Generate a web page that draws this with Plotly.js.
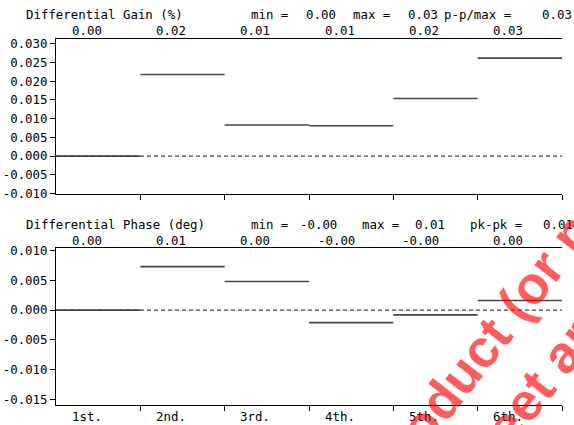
<!DOCTYPE html>
<html>
<head>
<meta charset="utf-8">
<script src="https://cdn.plot.ly/plotly-3.0.1.min.js"></script>
<style>html,body{margin:0;padding:0;background:#fff;}#chart{width:574px;height:425px;}</style>
</head>
<body>
<div id="chart"></div>
<script>
// ---- data ----
const segmentLabels = ['1st.', '2nd.', '3rd.', '4th.', '5th.', '6th.'];
const gainValues = [0.0000, 0.0218, 0.0083, 0.0081, 0.0154, 0.0262];
const phaseValues = [0.0000, 0.0073, 0.0048, -0.0021, -0.0008, 0.0016];
const gainTicks = [0.030, 0.025, 0.020, 0.015, 0.010, 0.005, 0.000, -0.005, -0.010];
const phaseTicks = [0.010, 0.005, 0.000, -0.005, -0.010, -0.015];
const gainTitle = 'Differential Gain (%)';
const phaseTitle = 'Differential Phase (deg)';
const gainStatNames = ['min =', 'max =', 'p-p/max ='];
const phaseStatNames = ['min =', 'max =', 'pk-pk ='];
const watermarkLines = ['product (or parts', 'sheet are'];

// ---- helpers ----
const W = 574, H = 425;
const px = v => v / W;
const py = v => 1 - v / H;
const fmt2 = v => v.toFixed(2);
const fmt3 = v => v.toFixed(3);
const FONT = {family: 'DejaVu Sans Mono, monospace', size: 12.4, color: '#000'};
const LABEL_SHIFT = 0.54; // right edge of per-segment labels, in segment units

function segTrace(vals, xa, ya) {
  const xs = [], ys = [];
  vals.forEach((v, i) => { xs.push(i, i + 1, null); ys.push(v, v, null); });
  return {x: xs, y: ys, xaxis: xa, yaxis: ya, mode: 'lines', type: 'scatter',
          line: {color: '#474747', width: 1.6}, hoverinfo: 'skip', showlegend: false, connectgaps: false};
}
function zeroTrace(n, xa, ya) {
  return {x: [0, n], y: [0, 0], xaxis: xa, yaxis: ya, mode: 'lines', type: 'scatter',
          line: {color: '#444', width: 1.2, dash: '4px,3px'}, hoverinfo: 'skip', showlegend: false};
}

const n = segmentLabels.length;
const traces = [
  zeroTrace(n, 'x', 'y'), segTrace(gainValues, 'x', 'y'),
  zeroTrace(n, 'x2', 'y2'), segTrace(phaseValues, 'x2', 'y2')
];

const ann = [];
function txt(text, x, y, xanchor) {
  ann.push({text: text, x: px(x), y: py(y), xref: 'paper', yref: 'paper', showarrow: false,
            xanchor: xanchor, yanchor: 'middle', font: FONT, borderpad: 0, borderwidth: 0});
}
function block(vals, title, names, xref, titleY, rowY, titleX, labelX, valueRight) {
  txt(title, titleX, titleY, 'left');
  const mn = Math.min(...vals), mx = Math.max(...vals);
  const stats = [mn, mx, mx - mn];
  names.forEach((nm, k) => {
    txt(nm, labelX[k], titleY, 'left');
    txt(fmt2(stats[k]), valueRight[k], titleY, 'right');
  });
  vals.forEach((v, i) => ann.push({text: fmt2(v), x: i + LABEL_SHIFT, y: py(rowY), xref: xref, yref: 'paper',
      showarrow: false, xanchor: 'right', yanchor: 'middle', font: FONT, borderpad: 0, borderwidth: 0}));
}
block(gainValues, gainTitle, gainStatNames, 'x', 14.5, 30.5, 25.6, [251, 353.2, 443.5], [336.4, 438.2, 572]);
block(phaseValues, phaseTitle, phaseStatNames, 'x2', 224.5, 241, 26.4, [251, 361.6, 470.3], [336.7, 444.7, 572.5]);

segmentLabels.forEach((lab, i) => {
  ann.push({text: lab, x: i + LABEL_SHIFT, y: py(416), xref: 'x2', yref: 'paper', showarrow: false,
            xanchor: 'right', yanchor: 'middle', font: FONT, borderpad: 0, borderwidth: 0});
});

// watermark
const WM = {family: 'Liberation Sans, Arial, sans-serif', size: 53, color: 'rgba(255,0,0,0.64)', weight: 'bold'};
ann.push({text: watermarkLines[0], x: px(509), y: py(312), xref: 'paper', yref: 'paper', showarrow: false,
          xanchor: 'center', yanchor: 'middle', textangle: -52, font: WM});
ann.push({text: watermarkLines[1], x: px(529), y: py(395), xref: 'paper', yref: 'paper', showarrow: false,
          xanchor: 'center', yanchor: 'middle', textangle: -52, font: WM});

function xAxis(anchor) {
  return {domain: [px(56), px(562)], range: [0, n], anchor: anchor, showline: true, mirror: true,
          linecolor: '#000', linewidth: 1, ticks: 'outside', tickvals: segmentLabels.map((_, i) => i + 1),
          ticklen: 5, tickcolor: '#000', tickwidth: 1, showticklabels: false, showgrid: false, zeroline: false, fixedrange: true};
}
function yAxis(anchor, domain, range, ticks) {
  return {domain: domain, range: range, anchor: anchor, showline: true, mirror: false,
          linecolor: '#000', linewidth: 1, ticks: 'outside', ticklen: 5, tickcolor: '#000', tickwidth: 1,
          tickvals: ticks, ticktext: ticks.map(fmt3), tickfont: FONT, showgrid: false, zeroline: false, fixedrange: true};
}

const layout = {
  width: W, height: H, margin: {l: 0, r: 0, t: 0, b: 0},
  paper_bgcolor: '#fff', plot_bgcolor: '#fff', showlegend: false,
  xaxis: xAxis('y'),
  yaxis: yAxis('x', [py(193.5), py(39)], [-0.010, 0.0313], gainTicks),
  xaxis2: xAxis('y2'),
  yaxis2: yAxis('x2', [py(404.7), py(248.3)], [-0.01587, 0.01037], phaseTicks),
  annotations: ann
};

Plotly.newPlot('chart', traces, layout, {staticPlot: true, displayModeBar: false});
</script>
</body>
</html>
